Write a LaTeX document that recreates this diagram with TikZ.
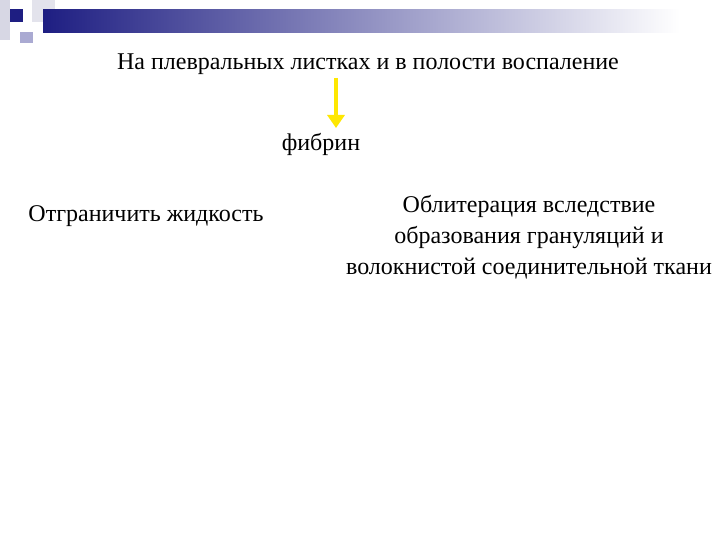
\documentclass[tikz,border=0pt]{standalone}
\usepackage{fontspec}
\setmainfont{Liberation Serif}
\usetikzlibrary{arrows.meta}
\definecolor{navy}{RGB}{30,30,130}
\definecolor{lav}{RGB}{170,170,210}
\definecolor{lgray}{RGB}{215,215,228}
\begin{document}
\begin{tikzpicture}[x=1pt,y=-1pt,
  txt/.style={font=\fontsize{24}{31}\selectfont, inner sep=0pt, align=center}]
\useasboundingbox (0,0) rectangle (720,540);
\fill[white] (0,0) rectangle (720,540);
% decoration
\fill[lgray] (0,0) rectangle (10,40);
\fill[lgray!70] (32,0) rectangle (55,22);
\shade[left color=navy, right color=white, middle color=navy!50] (43,10) rectangle (680,33);
\fill[lav] (20,32) rectangle (33,43);
\fill[navy] (10,9) rectangle (23,22);
% texts
\node[txt] (title) at (368,64) {На плевральных листках и в полости воспаление};
\node[txt] (fib) at (321,144) {фибрин};
\node[txt] (left) at (146,216) {Отграничить жидкость};
\node[txt] (right) at (529,237) {Облитерация вследствие\\образования грануляций и\\волокнистой соединительной ткани};
\coordinate (a1) at (336,78);
\coordinate (a2) at (336,128);
\draw[yellow!90!orange, line width=3.5pt, -{Triangle[length=13pt,width=17pt]}] (a1) -- (a2);
\end{tikzpicture}
\end{document}
